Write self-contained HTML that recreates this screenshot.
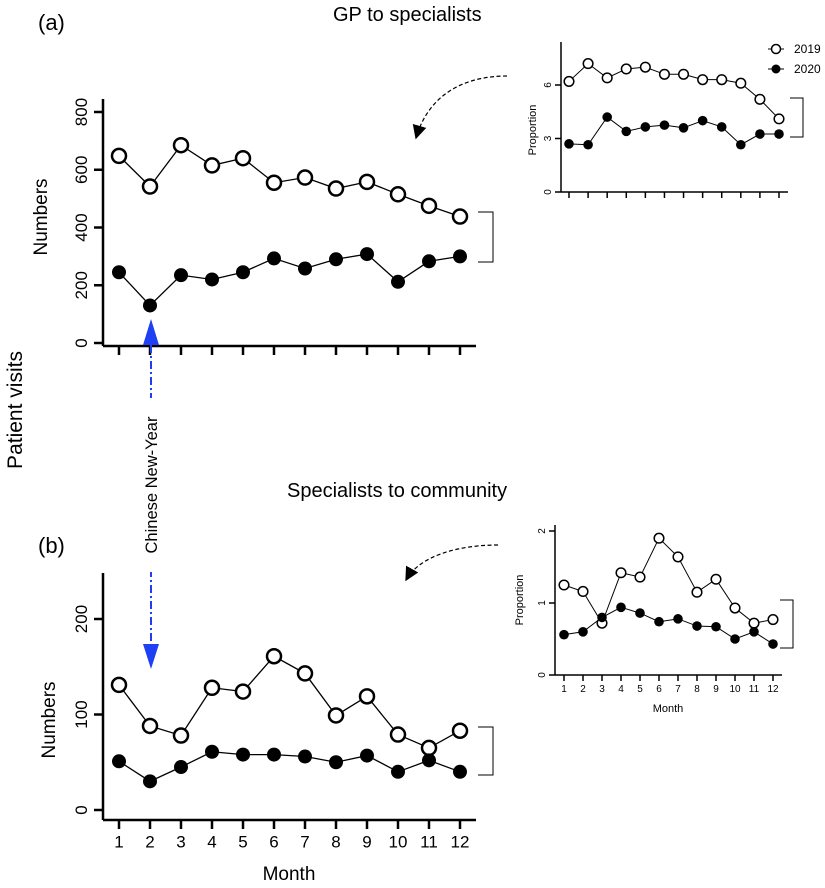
<!DOCTYPE html>
<html><head><meta charset="utf-8"><style>
html,body{margin:0;padding:0;background:#fff;width:825px;height:888px;overflow:hidden}
svg{font-family:"Liberation Sans",Arial,sans-serif}
</style></head><body>
<svg id="fig" width="825" height="888" xmlns="http://www.w3.org/2000/svg">
<defs>
<marker id="ab" viewBox="0 0 10 10" refX="9" refY="5" markerWidth="14" markerHeight="14" markerUnits="userSpaceOnUse" orient="auto"><path d="M0,0L10,5L0,10z" fill="#000"/></marker>
</defs>
<g id="root"></g>
</svg>
<script>
const months = [1,2,3,4,5,6,7,8,9,10,11,12];
const aMain2019 = [648,542,685,615,640,555,573,535,558,515,475,438];
const aMain2020 = [245,130,235,220,245,293,258,290,308,212,283,300];
const aInset2019 = [6.2,7.2,6.4,6.9,7.0,6.6,6.6,6.3,6.3,6.1,5.2,4.1];
const aInset2020 = [2.7,2.65,4.2,3.4,3.65,3.75,3.6,4.0,3.65,2.65,3.25,3.25];
const bMain2019 = [131,88,78,128,124,161,143,99,119,79,65,83];
const bMain2020 = [51,30,45,61,58,58,56,50,57,40,52,40];
const bInset2019 = [1.25,1.16,0.72,1.42,1.36,1.9,1.64,1.15,1.33,0.93,0.72,0.77];
const bInset2020 = [0.56,0.6,0.8,0.94,0.86,0.74,0.78,0.68,0.67,0.5,0.6,0.43];
const aMainTicks = [0,200,400,600,800];
const bMainTicks = [0,100,200];
const aInsetTicks = [0,3,6];
const bInsetTicks = [0,1,2];

const NS="http://www.w3.org/2000/svg";
const root=document.getElementById('root');
function el(tag,attrs,parent,text){const e=document.createElementNS(NS,tag);for(const k in attrs)e.setAttribute(k,attrs[k]);if(text!==undefined)e.textContent=text;(parent||root).appendChild(e);return e;}

function panel(p){
  const g=el('g',{});
  
  
  const sx=m=>p.x1+(m-1)*(p.x12-p.x1)/11;
  const sy=v=>p.y0+(v-p.vmin)*(p.yv-p.y0)/(p.vref-p.vmin);
  const ya=el('line',{x1:p.ax,x2:p.ax,y1:p.ytop,y2:p.xaxisY,stroke:'#000','stroke-width':p.sw},g);
  
  
  p.ticks.forEach(t=>{
    const y=sy(t);
    el('line',{x1:p.ax-p.tl,x2:p.ax,y1:y,y2:y,stroke:'#000','stroke-width':p.sw},g);
    const tx=el('text',{x:0,y:0,transform:`translate(${p.ax-p.tl-p.fs*0.4},${y}) rotate(-90)`,'text-anchor':'middle','font-size':p.fs},g,String(t));
    
    
  });
  const xa=el('line',{x1:p.ax,x2:p.xend,y1:p.xaxisY,y2:p.xaxisY,stroke:'#000','stroke-width':p.sw},g);
  
  
  months.forEach(m=>{
    el('line',{x1:sx(m),x2:sx(m),y1:p.xaxisY,y2:p.xaxisY+p.tl,stroke:'#000','stroke-width':p.sw},g);
    if(p.xlabels){
      const t=el('text',{x:sx(m),y:p.xaxisY+p.tl+p.xfs*1.1,'text-anchor':'middle','font-size':p.xfs},g,String(m));
      
      
    }
  });
  [[p.s19,false],[p.s20,true]].forEach(([arr,filled])=>{
    const pts=arr.map((v,i)=>sx(months[i])+','+sy(v)).join(' ');
    const line=el('polyline',{points:pts,fill:'none',stroke:'#000','stroke-width':p.lw},g);
    
    
    arr.forEach((v,i)=>{
      const c=el('circle',{cx:sx(months[i]),cy:sy(v),r:p.r,fill:filled?'#000':'#fff',stroke:'#000','stroke-width':filled?0:p.mw},g);
      
      
    });
  });
  const b=el('path',{d:`M${p.bx1},${p.by1}H${p.bx2}V${p.by2}H${p.bx1}`,fill:'none',stroke:'#000','stroke-width':1},g);
  
  
}

panel({name:'panel-a-main',x1:119,x12:460,y0:343,yv:112,vmin:0,vref:800,ax:103,ytop:99,xaxisY:346,xend:476,sw:2.5,tl:9,fs:17,xlabels:false,s19:aMain2019,s20:aMain2020,r:7,mw:2.5,lw:1.3,ticks:aMainTicks,bx1:478,bx2:493,by1:212,by2:262});
panel({name:'panel-b-main',x1:119,x12:460,y0:810,yv:619,vmin:0,vref:200,ax:103,ytop:573,xaxisY:820,xend:476,sw:2.5,tl:9,fs:17,xlabels:true,xfs:17,s19:bMain2019,s20:bMain2020,r:7,mw:2.5,lw:1.3,ticks:bMainTicks,bx1:478,bx2:493,by1:727,by2:775});
panel({name:'panel-a-inset',x1:569,x12:779,y0:192,yv:85,vmin:0,vref:6,ax:561,ytop:42,xaxisY:192,xend:788,sw:1.5,tl:6,fs:10,xlabels:false,s19:aInset2019,s20:aInset2020,r:4.8,mw:1.5,lw:1,ticks:aInsetTicks,bx1:790,bx2:803,by1:98,by2:137});
panel({name:'panel-b-inset',x1:564,x12:773,y0:675,yv:603,vmin:0,vref:1,ax:555,ytop:525,xaxisY:675,xend:782,sw:1.5,tl:6,fs:10,xlabels:true,xfs:10,s19:bInset2019,s20:bInset2020,r:4.8,mw:1.5,lw:1,ticks:bInsetTicks,bx1:780,bx2:793,by1:600,by2:648});

function txt(name,attrs,s){const t=el('text',attrs,root,s);return t;}
txt('panel-a-label',{x:38,y:30,'font-size':22},'(a)');
txt('panel-b-label',{x:38,y:553,'font-size':22},'(b)');
txt('panel-a-title',{x:333,y:21,'font-size':20},'GP to specialists');
txt('panel-b-title',{x:287,y:497,'font-size':20},'Specialists to community');
txt('patient-visits-label',{x:0,y:0,transform:'translate(22,410) rotate(-90)','text-anchor':'middle','font-size':21},'Patient visits');
txt('panel-a-y-title',{x:0,y:0,transform:'translate(47,217) rotate(-90)','text-anchor':'middle','font-size':19},'Numbers');
txt('panel-b-y-title',{x:0,y:0,transform:'translate(55,720) rotate(-90)','text-anchor':'middle','font-size':19},'Numbers');
txt('panel-b-x-title',{x:289,y:880,'text-anchor':'middle','font-size':19},'Month');
txt('inset-b-x-title',{x:668,y:712,'text-anchor':'middle','font-size':11},'Month');
txt('inset-a-y-title',{x:0,y:0,transform:'translate(536,130) rotate(-90)','text-anchor':'middle','font-size':11},'Proportion');
txt('inset-b-y-title',{x:0,y:0,transform:'translate(523,600) rotate(-90)','text-anchor':'middle','font-size':11},'Proportion');
const lg=el('g',{});
el('line',{x1:768,x2:784,y1:49,y2:49,stroke:'#000'},lg);
el('circle',{cx:776,cy:49,r:4.5,fill:'#fff',stroke:'#000','stroke-width':1.5},lg);
el('text',{x:794,y:53,'font-size':12},lg,'2019');
el('line',{x1:768,x2:784,y1:69,y2:69,stroke:'#000'},lg);
el('circle',{cx:776,cy:69,r:4.5,fill:'#000'},lg);
el('text',{x:794,y:73,'font-size':12},lg,'2020');
const c1=el('path',{d:'M507,76 C470,76 430,90 416,138',fill:'none',stroke:'#000','stroke-width':1.2,'stroke-dasharray':'4,2.5','marker-end':'url(#ab)'});

const c2=el('path',{d:'M498,545 C460,545 420,555 406,580',fill:'none',stroke:'#000','stroke-width':1.2,'stroke-dasharray':'4,2.5','marker-end':'url(#ab)'});

const ba=el('g',{});
el('line',{x1:151,x2:151,y1:345,y2:644,stroke:'#1f3ff5','stroke-width':2,'stroke-dasharray':'8,3,2,3'},ba);
el('path',{d:'M143,345 L151,319 L159,345Z',fill:'#1f3ff5'},ba);
el('path',{d:'M143,644 L151,669 L159,644Z',fill:'#1f3ff5'},ba);
el('rect',{x:141,y:398,width:20,height:174,fill:'#fff'},ba);
el('text',{x:0,y:0,transform:'translate(157,485) rotate(-90)','text-anchor':'middle','font-size':16.5},ba,'Chinese New-Year');
</script>
</body></html>
